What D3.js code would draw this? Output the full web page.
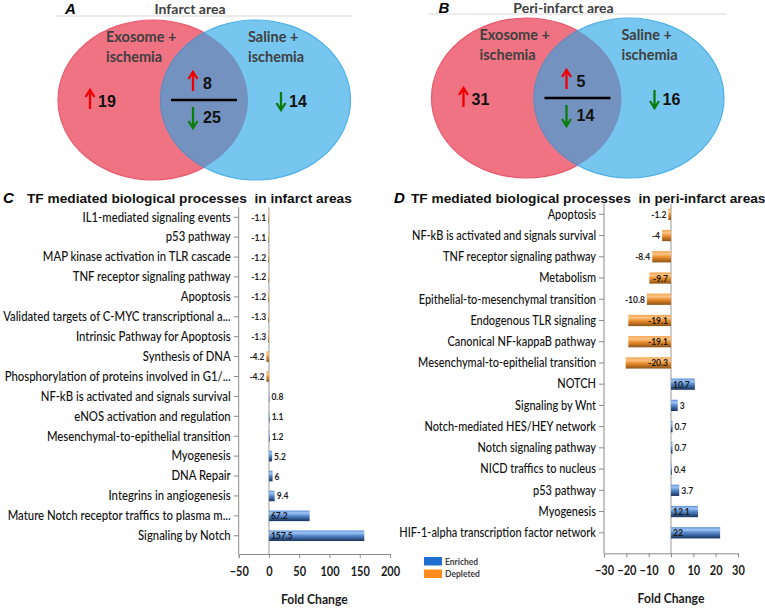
<!DOCTYPE html>
<html>
<head>
<meta charset="utf-8">
<script src="https://cdn.jsdelivr.net/npm/d3@7"></script>
<style>
  body { margin: 0; background: #fff; }
  svg { display: block; }
</style>
</head>
<body>
<div id="chart"></div>
<script>
// Venn panels (A = infarct, B = peri-infarct)
const vennTitles = ["Infarct area", "Peri-infarct area"];
const vennLetters = ["A", "B"];
const exosomeUp = [19, 31];
const sharedUp = [8, 5];
const sharedDown = [25, 14];
const salineDown = [14, 16];

// Panel C
const infarctProcesses = [
  "IL1-mediated signaling events", "p53 pathway", "MAP kinase activation in TLR cascade",
  "TNF receptor signaling pathway", "Apoptosis", "Validated targets of C-MYC transcriptional a...",
  "Intrinsic Pathway for Apoptosis", "Synthesis of DNA", "Phosphorylation of proteins involved in G1/...",
  "NF-kB is activated and signals survival", "eNOS activation and regulation",
  "Mesenchymal-to-epithelial transition", "Myogenesis", "DNA Repair", "Integrins in angiogenesis",
  "Mature Notch receptor traffics to plasma m...", "Signaling by Notch"
];
const infarctFold = [-1.1, -1.1, -1.2, -1.2, -1.2, -1.3, -1.3, -4.2, -4.2, 0.8, 1.1, 1.2, 5.2, 6, 9.4, 67.2, 157.5];
const infarctTicks = [-50, 0, 50, 100, 150, 200];

// Panel D
const periProcesses = [
  "Apoptosis", "NF-kB is activated and signals survival", "TNF receptor signaling pathway", "Metabolism",
  "Epithelial-to-mesenchymal transition", "Endogenous TLR signaling", "Canonical NF-kappaB pathway",
  "Mesenchymal-to-epithelial transition", "NOTCH", "Signaling by Wnt", "Notch-mediated HES/HEY network",
  "Notch signaling pathway", "NICD traffics to nucleus", "p53 pathway", "Myogenesis",
  "HIF-1-alpha transcription factor network"
];
const periFold = [-1.2, -4, -8.4, -9.7, -10.8, -19.1, -19.1, -20.3, 10.7, 3, 0.7, 0.7, 0.4, 3.7, 12.1, 22];
const periTicks = [-30, -20, -10, 0, 10, 20, 30];

const legendNames = ["Enriched", "Depleted"];

const width = 765, height = 609;
const sans = "Lato, 'Open Sans', sans-serif";
const arial = "'Liberation Sans', Arial, sans-serif";

const svg = d3.select("#chart").append("svg")
  .attr("width", width)
  .attr("height", height);

const defs = svg.append("defs");

function barGradient(id, stops) {
  const g = defs.append("linearGradient").attr("id", id)
    .attr("x1", 0).attr("y1", 0).attr("x2", 0).attr("y2", 1);
  stops.forEach(s => g.append("stop").attr("offset", s[0]).attr("stop-color", s[1]));
}
barGradient("blueBar", [[0, "#5a8fd8"], [0.22, "#a0c5f2"], [0.5, "#5689cc"], [1, "#18325e"]]);
barGradient("orangeBar", [[0, "#f4a24c"], [0.25, "#fcc585"], [0.55, "#e98b2c"], [1, "#8c5316"]]);

// squeeze a text horizontally (the original uses a narrow Calibri-like face)
function squeeze(sel, k) {
  sel.each(function () {
    const t = d3.select(this);
    const x = +t.attr("x") || 0;
    t.attr("x", x / k).attr("transform", `scale(${k},1)`);
  });
}

// ---------- Venn diagrams ----------
function drawVenn(i, dx, dy, titleY) {
  const g = svg.append("g").attr("transform", `translate(${dx}, ${dy})`);
  const cy = 100, rx = 95, ry = 80;
  const redCx = 153, blueCx = 255.5;

  g.append("line")
    .attr("x1", 55).attr("x2", 353).attr("y1", 16).attr("y2", 16)
    .attr("stroke", "#d9d9d9").attr("stroke-width", 1.2);

  g.append("text")
    .attr("x", 65).attr("y", titleY)
    .style("font-family", arial).style("font-size", "15px")
    .style("font-weight", "bold").style("font-style", "italic")
    .text(vennLetters[i]);

  g.append("text")
    .attr("x", 190).attr("y", titleY)
    .attr("text-anchor", "middle")
    .style("font-family", sans).style("font-size", "14px").style("font-weight", "bold")
    .attr("fill", "#404040")
    .text(vennTitles[i]);

  const clipId = "clipRed" + i;
  g.append("clipPath").attr("id", clipId)
    .append("ellipse").attr("cx", redCx).attr("cy", cy).attr("rx", rx).attr("ry", ry);

  g.append("ellipse")
    .attr("cx", redCx).attr("cy", cy).attr("rx", rx).attr("ry", ry)
    .attr("fill", "#f07383").attr("stroke", "#e85a6e").attr("stroke-width", 1.2);
  g.append("ellipse")
    .attr("cx", blueCx).attr("cy", cy).attr("rx", rx).attr("ry", ry)
    .attr("fill", "#76c6ef").attr("stroke", "#4fb2e6").attr("stroke-width", 1.2);
  g.append("ellipse")
    .attr("clip-path", `url(#${clipId})`)
    .attr("cx", blueCx).attr("cy", cy).attr("rx", rx).attr("ry", ry)
    .attr("fill", "#7492c0").attr("stroke", "#6c86b8").attr("stroke-width", 1.2);

  const groupText = (x, lines) => {
    const t = g.append("text")
      .attr("x", x).attr("y", 42)
      .style("font-family", sans).style("font-size", "14.5px").style("font-weight", "bold")
      .attr("fill", "#404040");
    lines.forEach((l, k) => t.append("tspan").attr("x", x).attr("dy", k ? 20 : 0).text(l));
  };
  groupText(106, ["Exosome +", "ischemia"]);
  groupText(248, ["Saline +", "ischemia"]);

  const arrow = (x, y1, y2, up, color) => {
    const tip = up ? y1 : y2, dir = up ? 1 : -1;
    g.append("path")
      .attr("d", `M${x},${y1}L${x},${y2}M${x - 4.5},${tip + dir * 7}L${x},${tip}L${x + 4.5},${tip + dir * 7}`)
      .attr("fill", "none").attr("stroke", color).attr("stroke-width", 2.3);
  };
  const count = (x, y, v) => g.append("text")
    .attr("x", x).attr("y", y)
    .style("font-family", arial).style("font-size", "16px").style("font-weight", "bold")
    .attr("fill", "#111")
    .text(v);

  arrow(90, 90, 109, true, "#f00000");
  count(98, 107, exosomeUp[i]);

  arrow(193, 72, 91, true, "#f00000");
  count(203, 89, sharedUp[i]);

  g.append("line")
    .attr("x1", 171).attr("x2", 237).attr("y1", 100).attr("y2", 100)
    .attr("stroke", "#000").attr("stroke-width", 2.5);

  arrow(193, 107, 128, false, "#0c7d0c");
  count(203, 123, sharedDown[i]);

  arrow(281, 92, 110, false, "#0c7d0c");
  count(289, 107, salineDown[i]);
}

drawVenn(0, 0, 0, 14);
drawVenn(1, 373.5, -2, 15);

// ---------- bar charts ----------
function drawBars(opts) {
  const g = svg.append("g");
  const x = d3.scaleLinear().domain(opts.domain).range(opts.xRange);
  const y = d3.scaleBand().domain(opts.cats).range(opts.yRange).paddingInner(0.47).paddingOuter(0.235);
  const data = opts.cats.map((c, k) => ({ name: c, value: opts.values[k] }));
  const x0 = x(0);

  // title
  g.append("text")
    .attr("x", opts.letterX).attr("y", opts.titleY)
    .style("font-family", arial).style("font-size", "15px")
    .style("font-weight", "bold").style("font-style", "italic")
    .text(opts.letter);
  g.append("text")
    .attr("x", opts.titleX).attr("y", opts.titleY)
    .style("font-family", arial).style("font-size", "13.7px").style("font-weight", "bold")
    .attr("fill", "#111")
    .text(opts.title);

  // zero line
  g.append("line")
    .attr("x1", x0).attr("x2", x0)
    .attr("y1", opts.yRange[0]).attr("y2", opts.axisY)
    .attr("stroke", "#9a9a9a").attr("stroke-width", 1);

  // bars
  g.selectAll(".bar")
    .data(data)
    .enter().append("rect")
    .attr("class", "bar")
    .attr("x", d => Math.min(x0, x(d.value)))
    .attr("y", d => y(d.name))
    .attr("width", d => Math.abs(x(d.value) - x0))
    .attr("height", y.bandwidth())
    .attr("fill", d => d.value < 0 ? "url(#orangeBar)" : "url(#blueBar)");

  // value labels: inside base when they fit, otherwise outside end
  const kv = 0.85;
  g.selectAll(".val")
    .data(data)
    .enter().append("text")
    .attr("class", "val")
    .attr("y", d => y(d.name) + y.bandwidth() / 2)
    .attr("dy", "0.35em")
    .style("font-family", sans).style("font-size", "10px").style("font-weight", "bold")
    .attr("fill", "#1a1a1a")
    .text(d => String(d.value))
    .each(function (d) {
      const tw = this.getComputedTextLength() * kv;
      const len = Math.abs(x(d.value) - x0);
      const inside = len > tw + 5;
      const neg = d.value < 0;
      let px;
      if (inside) px = neg ? x0 - 3 : x0 + 2;
      else px = neg ? x(d.value) - 2 : x(d.value) + 2;
      d3.select(this)
        .attr("x", px / kv)
        .attr("transform", `scale(${kv},1)`)
        .attr("text-anchor", neg ? "end" : "start");
    });

  // category axis
  const yAxis = g.append("g")
    .attr("transform", `translate(${opts.xRange[0]}, 0)`)
    .call(d3.axisLeft(y).tickSize(5).tickSizeOuter(0).tickPadding(3));
  yAxis.select(".domain").remove();
  yAxis.selectAll(".tick line").attr("stroke", "#8a8a8a");
  const catText = yAxis.selectAll(".tick text")
    .style("font-family", sans).style("font-size", "13.5px").style("font-weight", 500)
    .attr("fill", "#111");
  // fit the reference's label width
  const ref = catText.filter(d => d === "Mesenchymal-to-epithelial transition").node();
  const k = opts.refWidth / ref.getComputedTextLength();
  squeeze(catText, k);

  g.append("line")
    .attr("x1", opts.xRange[0]).attr("x2", opts.xRange[0])
    .attr("y1", opts.yRange[0]).attr("y2", opts.axisY)
    .attr("stroke", "#8a8a8a");

  // value axis
  const xAxis = g.append("g")
    .attr("transform", `translate(0, ${opts.axisY})`)
    .call(d3.axisBottom(x).tickValues(opts.ticks).tickSize(4).tickPadding(9).tickFormat(d3.format("d")));
  xAxis.selectAll("path, line").attr("stroke", "#8a8a8a");
  const tickText = xAxis.selectAll(".tick text")
    .style("font-family", sans).style("font-size", "12.5px").style("font-weight", "bold")
    .attr("fill", "#1a1a1a");
  squeeze(tickText, 0.88);

  g.append("text")
    .attr("x", (opts.xRange[0] + opts.xRange[1]) / 2).attr("y", opts.axisY + 50)
    .attr("text-anchor", "middle")
    .style("font-family", sans).style("font-size", "13.5px").style("font-weight", "bold")
    .attr("fill", "#1a1a1a")
    .text("Fold Change")
    .call(squeeze, 0.9);
}

drawBars({
  cats: infarctProcesses, values: infarctFold, ticks: infarctTicks,
  domain: [-50, 200], xRange: [238.7, 390], yRange: [207.3, 545.7], axisY: 554,
  letter: "C", letterX: 3, titleX: 27, titleY: 203, refWidth: 184,
  title: "TF mediated biological processes\u00a0 in infarct areas"
});

drawBars({
  cats: periProcesses, values: periFold, ticks: periTicks,
  domain: [-30, 30], xRange: [604, 738], yRange: [203.7, 543.4], axisY: 553.3,
  letter: "D", letterX: 394, titleX: 411, titleY: 203, refWidth: 178,
  title: "TF mediated biological processes\u00a0 in peri-infarct areas"
});

// legend
const legendColor = d3.scaleOrdinal().domain(legendNames).range(["#1f6fd1", "#ff8c1a"]);
const legend = svg.append("g").attr("transform", "translate(424, 557)");
legendNames.forEach((n, k) => {
  const row = legend.append("g").attr("transform", `translate(0, ${k * 12.5})`);
  row.append("rect").attr("width", 18).attr("height", 8.5).attr("fill", legendColor(n));
  row.append("text")
    .attr("x", 21).attr("y", 7.5)
    .style("font-family", sans).style("font-size", "8.5px").style("font-weight", "bold")
    .attr("fill", "#404040")
    .text(n);
});
</script>
</body>
</html>
